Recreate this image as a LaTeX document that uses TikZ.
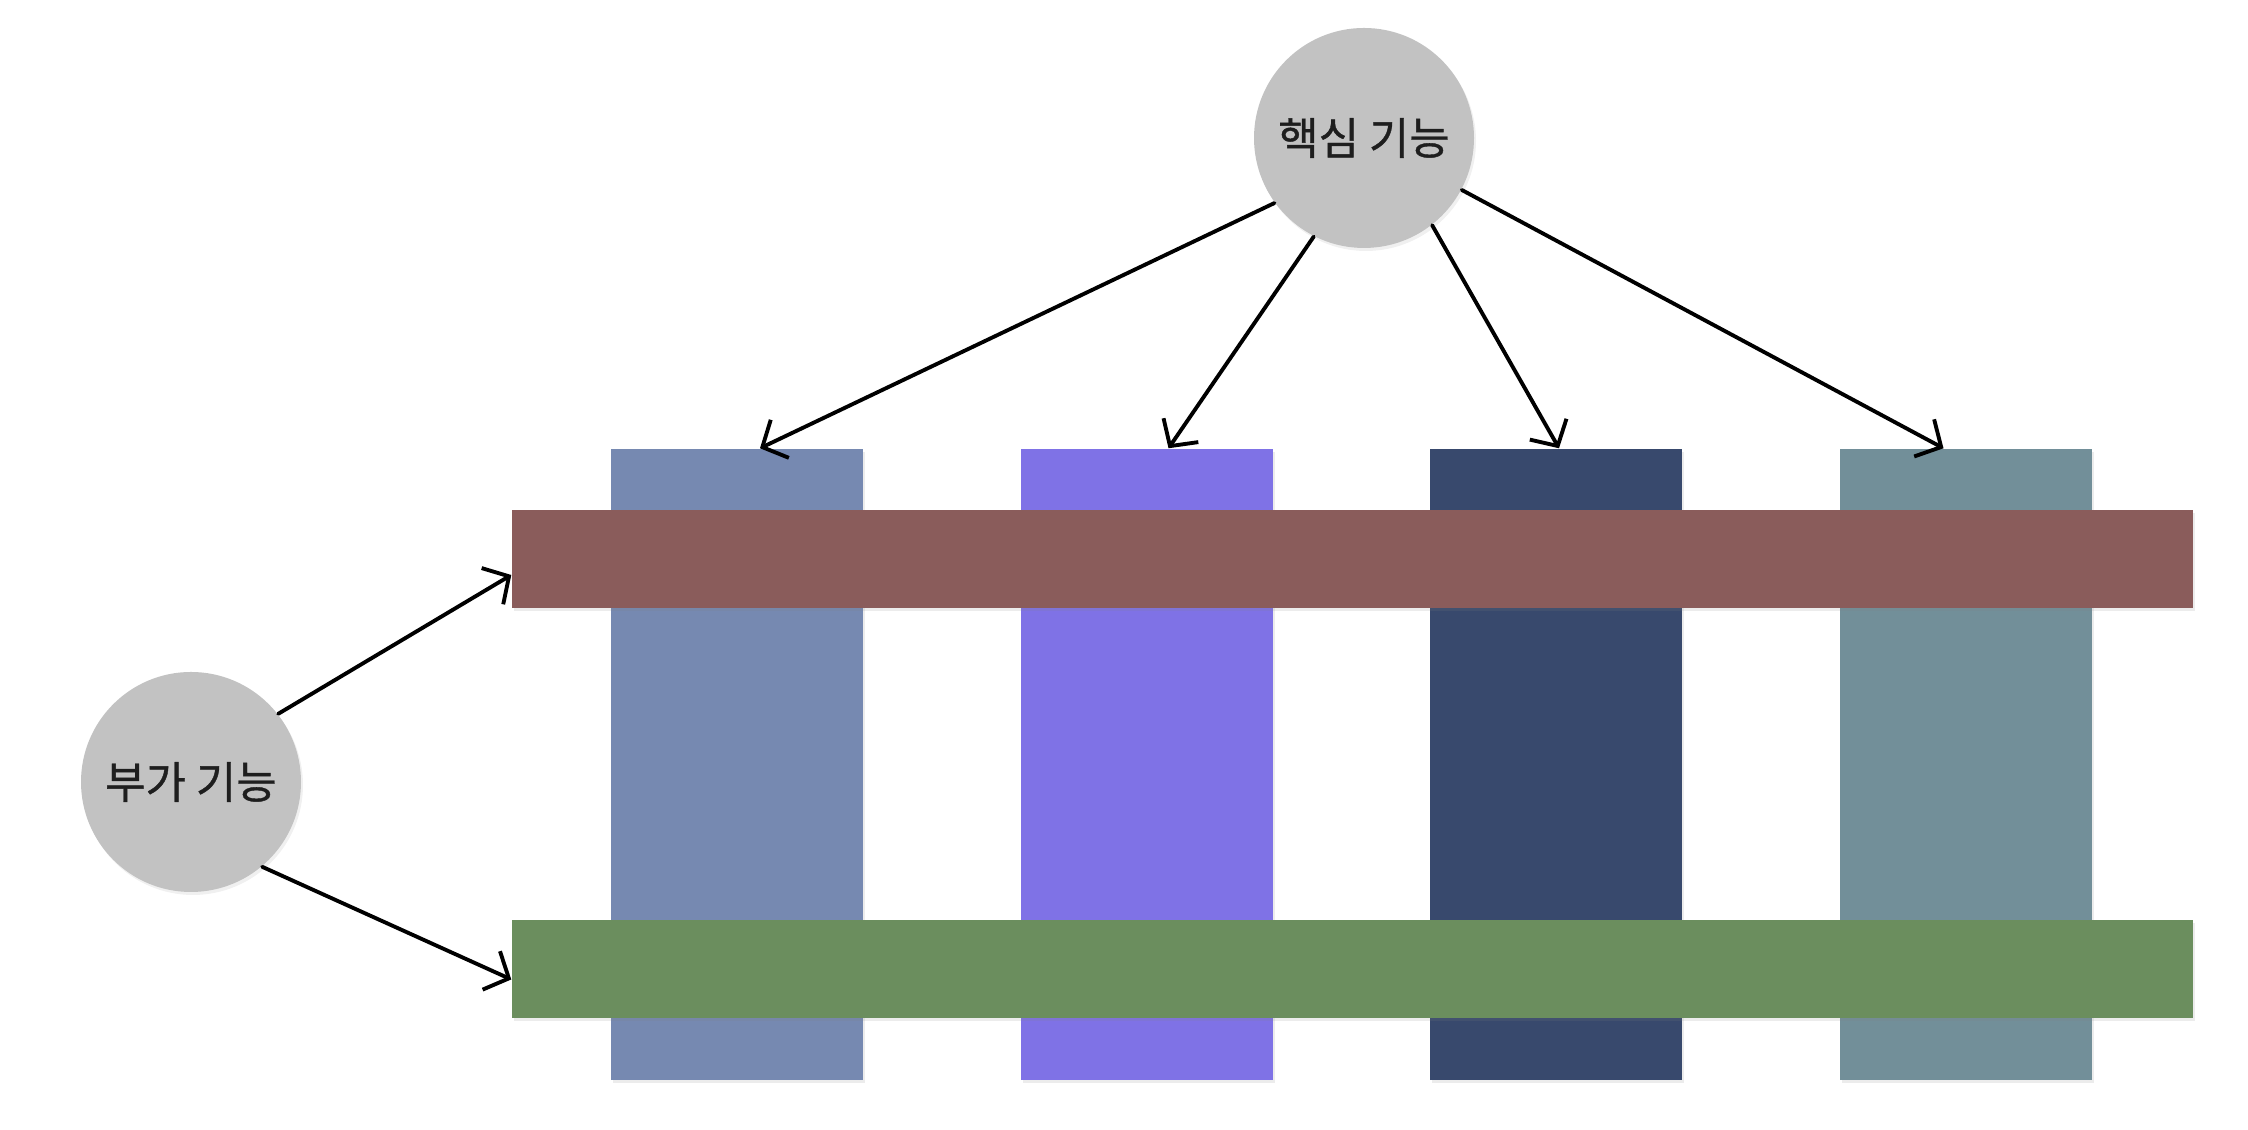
\documentclass[tikz,border=0pt]{standalone}
\usepackage{fontspec}
\newfontfamily\krfont[FakeBold=0.9]{Noto Sans CJK KR}
\usetikzlibrary{arrows.meta, calc, shadows}
\definecolor{bubblec}{RGB}{194,194,194}
\definecolor{inkc}{RGB}{30,30,30}
\definecolor{colA}{RGB}{118,137,177}
\definecolor{colB}{RGB}{127,114,230}
\definecolor{colC}{RGB}{56,73,109}
\definecolor{colD}{RGB}{114,143,153}
\definecolor{crossR}{RGB}{138,92,91}
\definecolor{crossG}{RGB}{107,142,94}

\tikzset{
  bubble/.style={circle, fill=bubblec, inner sep=0pt, minimum size=2.2cm,
    font=\krfont\fontsize{12.5}{15}\selectfont, text=inkc,
    drop shadow={opacity=0.12, shadow xshift=0.02cm, shadow yshift=-0.03cm}},
  pillar/.style={rectangle, inner sep=0pt, minimum width=2.52cm, minimum height=6.31cm,
    drop shadow={opacity=0.15, shadow xshift=0.02cm, shadow yshift=-0.03cm}},
  crossbar/.style={rectangle, inner sep=0pt, minimum width=16.81cm, minimum height=0.98cm,
    drop shadow={opacity=0.15, shadow xshift=0.02cm, shadow yshift=-0.03cm}},
  link/.style={->, line width=1.1pt, black}
}

\begin{document}
\begin{tikzpicture}[>={Straight Barb[length=5.5pt, width=12pt]}, line cap=round]
  \useasboundingbox (0,0) rectangle (22.48,11.30);

  % four core columns
  \foreach \i/\c in {1/colA, 2/colB, 3/colC, 4/colD}{
    \node[pillar, fill=\c] (col\i) at ({7.37+4.095*(\i-1)},3.655) {};
  }

  % cross-cutting bars on top
  \node[crossbar, fill=crossR] (redbar) at (13.525,5.71) {};
  \node[crossbar, fill=crossG] (greenbar) at (13.525,1.605) {};

  % the two bubbles
  \node[bubble] (core) at (13.64,9.92) {핵심 기능};
  \node[bubble] (extra) at (1.91,3.48) {부가 기능};

  % core -> columns
  \draw[link] (core.216) -- ($(col1.north)+(0.23,0)$);
  \draw[link] (core.243) -- ($(col2.north)+(0.22,0)$);
  \draw[link] (core.308) -- ($(col3.north)+(0.03,0)$);
  \draw[link] (core.332) -- ($(col4.north)+(-0.22,0)$);

  % extra -> bars
  \draw[link] (extra.38) -- ($(redbar.west)+(0,-0.16)$);
  \draw[link] (extra.310) -- ($(greenbar.west)+(0,-0.10)$);
\end{tikzpicture}
\end{document}
